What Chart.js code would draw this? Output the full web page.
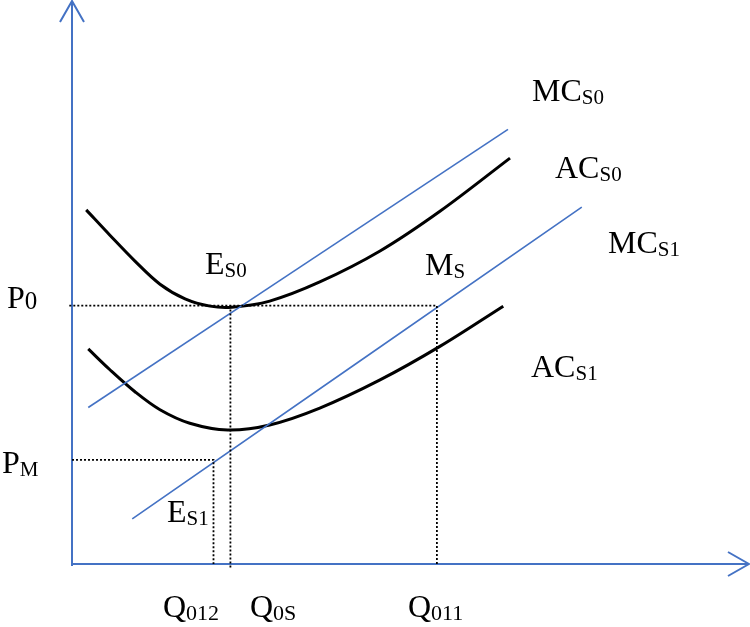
<!DOCTYPE html>
<html>
<head>
<meta charset="utf-8">
<script src="https://cdn.jsdelivr.net/npm/chart.js@4/dist/chart.umd.min.js"></script>
<style>
  html, body { margin: 0; padding: 0; background: #fff; }
  #wrap { width: 750px; height: 627px; }
</style>
</head>
<body>
<div id="wrap"><canvas id="chart"></canvas></div>
<script>
// quantity (x) / price (y), both on a 0-100 scale
var mcS0 = [{ x: 2.4, y: 27.8 }, { x: 64.4, y: 77.2 }];
var mcS1 = [{ x: 8.9, y: 8.0 }, { x: 75.3, y: 63.4 }];
var acS0 = [
  { x: 2.1, y: 62.9 }, { x: 5.6, y: 58.4 }, { x: 9.3, y: 53.8 }, { x: 13.0, y: 49.7 },
  { x: 16.7, y: 47.1 }, { x: 20.4, y: 45.8 }, { x: 23.6, y: 45.6 }, { x: 29.2, y: 46.7 },
  { x: 36.6, y: 50.1 }, { x: 45.5, y: 55.6 }, { x: 54.4, y: 62.7 }, { x: 64.7, y: 72.1 }
];
var acS1 = [
  { x: 2.4, y: 38.2 }, { x: 5.6, y: 34.5 }, { x: 9.3, y: 30.6 }, { x: 13.0, y: 27.4 },
  { x: 17.4, y: 25.0 }, { x: 23.0, y: 23.8 }, { x: 29.2, y: 24.7 }, { x: 36.6, y: 27.7 },
  { x: 45.5, y: 32.7 }, { x: 54.4, y: 38.7 }, { x: 63.7, y: 45.8 }
];
var P0 = 45.9, PM = 18.5;
var Q012 = 20.9, Q0S = 23.4, Q011 = 53.9;

var labelTexts = [
  ['P', '0'], ['P', 'M'], ['E', 'S0'], ['M', 'S'], ['E', 'S1'],
  ['MC', 'S0'], ['AC', 'S0'], ['MC', 'S1'], ['AC', 'S1'],
  ['Q', '012'], ['Q', '0S'], ['Q', '011']
];

var BLUE = '#4472C4';

function dotted(pts) {
  return {
    data: pts, showLine: true, borderColor: '#000', borderWidth: 1.8,
    borderDash: [2, 2], pointRadius: 0, clip: false
  };
}

function curve(pts, color, width) {
  return {
    data: pts, showLine: true, borderColor: color, borderWidth: width,
    pointRadius: 0, tension: 0.35
  };
}

var axesPlugin = {
  id: 'axes',
  beforeDatasetsDraw: function (chart) {
    var a = chart.chartArea, ctx = chart.ctx;
    ctx.save();
    ctx.strokeStyle = BLUE;
    ctx.lineWidth = 2;
    ctx.beginPath();
    ctx.moveTo(a.left, a.bottom + 2);
    ctx.lineTo(a.left, a.top);
    ctx.moveTo(a.left - 12, a.top + 21);
    ctx.lineTo(a.left, a.top);
    ctx.lineTo(a.left + 12, a.top + 21);
    ctx.moveTo(a.left, a.bottom);
    ctx.lineTo(a.right, a.bottom);
    ctx.moveTo(a.right - 21, a.bottom - 12);
    ctx.lineTo(a.right, a.bottom);
    ctx.lineTo(a.right - 21, a.bottom + 12);
    ctx.stroke();
    ctx.restore();
  }
};

// label anchors: left edge, baseline, subscript size, subscript drop
var labelPos = [
  [7, 308, 25, 1], [2, 473, 21, 3], [205, 274, 21, 3], [425, 275, 21, 3], [167, 522, 21, 3],
  [532, 101, 21, 3], [555, 178, 21, 3], [608, 253, 21, 3], [531, 377, 21, 3],
  [163, 617, 22, 3], [250, 617, 22, 3], [408, 617, 22, 3]
];

var labelsPlugin = {
  id: 'labels',
  afterDraw: function (chart) {
    var ctx = chart.ctx;
    ctx.save();
    ctx.fillStyle = '#000';
    ctx.textBaseline = 'alphabetic';
    labelTexts.forEach(function (t, i) {
      var p = labelPos[i];
      ctx.font = '32px "Liberation Serif", serif';
      ctx.fillText(t[0], p[0], p[1]);
      var w = ctx.measureText(t[0]).width;
      ctx.font = p[2] + 'px "Liberation Serif", serif';
      ctx.fillText(t[1], p[0] + w, p[1] + p[3]);
    });
    ctx.restore();
  }
};

new Chart(document.getElementById('chart'), {
  type: 'scatter',
  data: {
    datasets: [
      dotted([{ x: -0.4, y: P0 }, { x: Q011, y: P0 }, { x: Q011, y: 0 }]),
      dotted([{ x: Q0S, y: P0 }, { x: Q0S, y: -0.7 }]),
      dotted([{ x: 0, y: PM }, { x: Q012, y: PM }, { x: Q012, y: 0 }]),
      curve(mcS0, BLUE, 1.6),
      curve(mcS1, BLUE, 1.6),
      curve(acS0, '#000', 3),
      curve(acS1, '#000', 3)
    ]
  },
  options: {
    responsive: true,
    maintainAspectRatio: false,
    animation: false,
    layout: { padding: { left: 72, right: 1, top: 1, bottom: 63 } },
    plugins: { legend: { display: false }, tooltip: { enabled: false } },
    scales: {
      x: { type: 'linear', min: 0, max: 100, display: false },
      y: { type: 'linear', min: 0, max: 100, display: false }
    }
  },
  plugins: [axesPlugin, labelsPlugin]
});
</script>
</body>
</html>
